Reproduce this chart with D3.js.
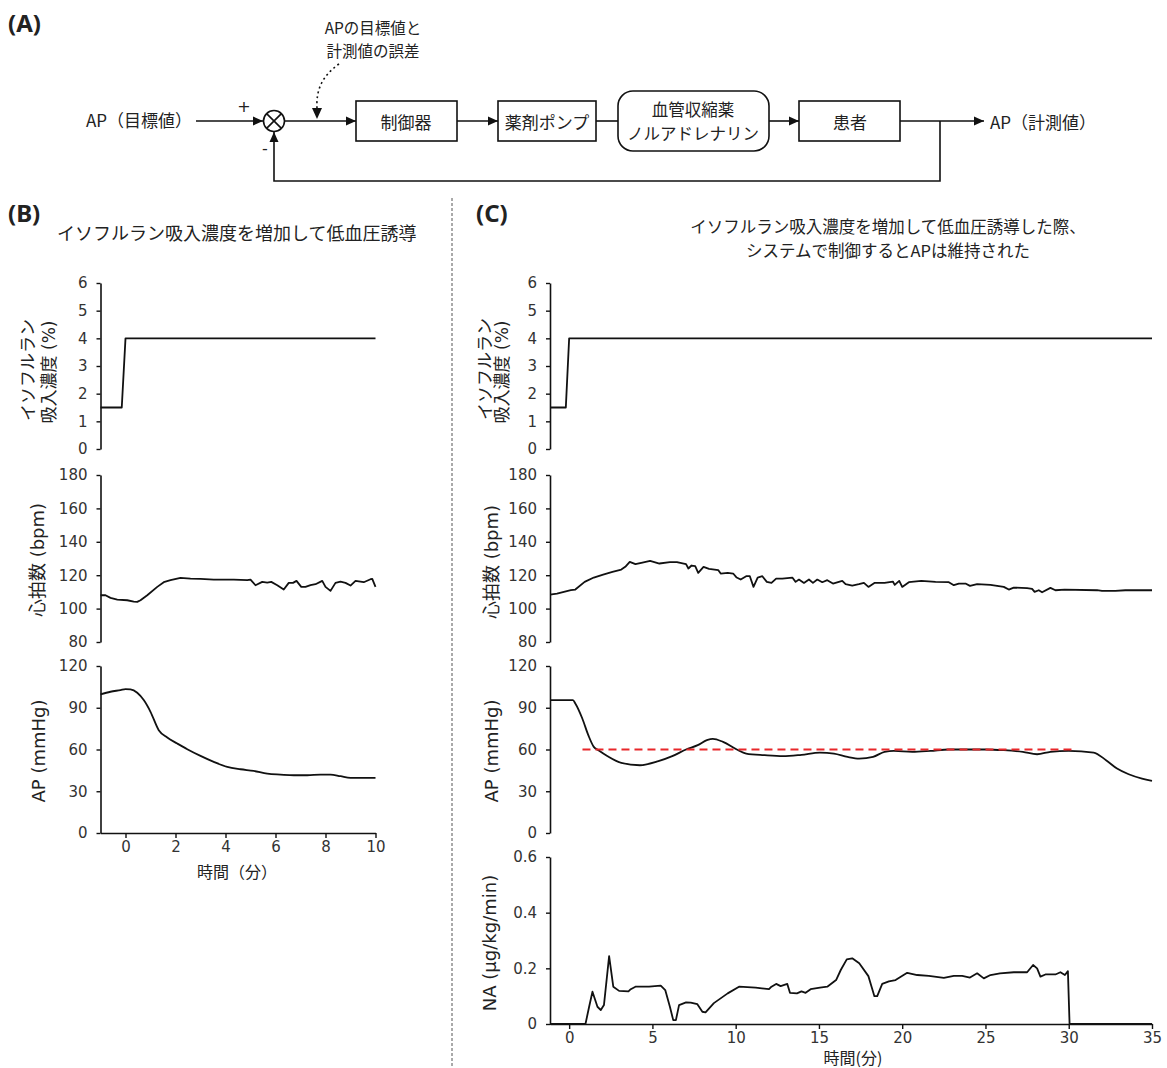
<!DOCTYPE html>
<html><head><meta charset="utf-8">
<script src="https://cdn.jsdelivr.net/npm/d3@7"></script>
<style>
html,body{margin:0;padding:0;background:#fff;}
svg{display:block;}
</style></head>
<body>
<script>
// ---------- DATA ----------
const isoTicks = [0,1,2,3,4,5,6];
const hrTicks = [80,100,120,140,160,180];
const apTicks = [0,30,60,90,120];
const naTicks = [0,0.2,0.4,0.6];
const timeTicksB = [0,2,4,6,8,10];
const timeTicksC = [0,5,10,15,20,25,30,35];

const isoB = [[-1,1.5],[-0.15,1.5],[0,4],[10,4]];
const hrB = [[-1,108],[-0.8,108],[-0.6,106.4],[-0.33,105.4],[0.07,105],[0.33,104.2],[0.47,104],[0.6,105],[0.87,108],[1.27,113],[1.53,115.8],[1.8,117],[2.2,118.4],[2.6,118],[3.0,117.8],[3.53,117.4],[4.33,117.4],[4.87,117],[5.0,117.4],[5.2,114],[5.47,116],[5.67,115.6],[5.83,116],[6.07,114],[6.33,111.4],[6.53,115.4],[6.7,115.4],[6.84,116.6],[7.03,113],[7.2,113],[7.4,114],[7.6,114.6],[7.87,116.6],[8.0,113],[8.2,110.6],[8.4,115.4],[8.6,116.2],[8.8,115.4],[9.0,113.8],[9.2,116.6],[9.53,115.8],[9.8,117.6],[9.87,117.8],[10,113]];
const apB = [[-1,99.6],[-0.6,101.5],[-0.2,102.7],[0,103.4],[0.2,103.2],[0.47,100.8],[0.73,95.5],[1.0,87.1],[1.33,73.9],[1.67,68.6],[2.07,64.3],[2.47,60.2],[3.0,55.4],[3.53,51.1],[4.07,47.5],[4.6,45.8],[5.13,44.6],[5.67,42.7],[6.2,42],[6.73,41.5],[7.27,41.5],[7.8,42],[8.2,42],[8.6,40.8],[9.0,39.6],[10,39.6]];

const isoC = [[-1.15,1.5],[-0.2,1.5],[0,4],[35,4]];
const hrC = [[-1.15,108.4],[-0.73,109],[0.1,111],[0.37,111.4],[0.93,116],[1.48,118.6],[2.04,120.4],[2.6,122],[3.13,123.4],[3.37,125],[3.64,128],[3.98,126.6],[4.4,127.6],[4.86,128.6],[5.42,127],[6.05,127.8],[6.47,127.8],[7.02,126.6],[7.16,124],[7.35,125.8],[7.57,125.4],[7.75,121.4],[8.07,125],[8.4,123.8],[8.96,123],[9.1,121],[9.52,121.4],[9.85,121],[10.06,118.6],[10.3,117.4],[10.63,119.4],[10.85,119.4],[11.07,113],[11.32,118.6],[11.6,119.4],[11.87,116],[12.15,115.4],[12.43,118],[12.8,118],[13.4,118.6],[13.6,116],[13.8,117.4],[14.1,115.4],[14.4,117.4],[14.64,115.4],[14.9,117.4],[15.2,115.8],[15.5,117],[15.84,115],[16.4,116.6],[16.6,114.6],[17,113.8],[17.4,114.6],[17.7,115.4],[17.97,113],[18.33,115.4],[18.94,115.4],[19.44,116.2],[19.55,114.2],[19.82,116.6],[20.0,113],[20.4,115.8],[21.15,116.6],[22,116],[22.8,115.8],[23.1,114],[23.4,115],[23.8,115],[24.07,113.6],[24.5,114.6],[25.3,114.2],[26.1,113],[26.4,111.4],[26.7,112.6],[27.5,112.2],[27.8,111.8],[27.95,110],[28.2,111],[28.4,109.8],[28.9,112.4],[29.2,111],[29.75,111.4],[31.7,111],[32.0,110.6],[32.8,110.6],[33.4,111],[35,111]];
const apC = [[-1.15,95.5],[0.23,95.5],[0.37,93.1],[0.79,82.3],[1.15,70.3],[1.48,61.9],[1.76,59.5],[2.31,55.2],[3.13,50.4],[4.25,48.7],[5.36,51.6],[6.19,55.2],[7.02,60],[7.72,63.1],[8.27,66.7],[8.63,67.7],[9.24,65.5],[10.07,60],[10.63,57.1],[11.74,55.9],[12.84,55.2],[13.95,56.2],[15.06,57.8],[15.9,57.1],[16.72,54.7],[17.42,53.5],[18.25,54.7],[18.94,58.3],[19.5,59],[20.6,58.3],[21.7,59],[22.8,60],[23.93,60],[25.0,60],[26.1,59.5],[27.25,58.3],[28.1,56.6],[28.9,58.3],[30.0,59],[31.5,57.8],[32.24,52.3],[32.9,46.3],[33.6,42.2],[34.4,39.1],[35,37.5]];
const apTarget = [[0.8,60],[30.2,60]];
const naC = [[-1.15,0],[0.98,0],[1.2,0.062],[1.4,0.116],[1.7,0.062],[1.9,0.05],[2.09,0.068],[2.4,0.244],[2.65,0.134],[3.0,0.119],[3.56,0.117],[3.7,0.125],[3.98,0.134],[4.8,0.134],[5.5,0.138],[5.77,0.122],[6.05,0.062],[6.25,0.014],[6.41,0.014],[6.6,0.068],[7.02,0.078],[7.3,0.077],[7.7,0.071],[8.0,0.044],[8.19,0.042],[8.69,0.075],[9.52,0.11],[10.2,0.134],[11.2,0.131],[12.0,0.125],[12.15,0.134],[12.43,0.144],[12.7,0.136],[13.1,0.144],[13.26,0.112],[13.68,0.11],[13.95,0.117],[14.2,0.112],[14.5,0.125],[15.06,0.131],[15.5,0.134],[16.03,0.158],[16.31,0.194],[16.67,0.232],[17.0,0.236],[17.42,0.218],[17.97,0.172],[18.16,0.134],[18.33,0.1],[18.5,0.1],[18.8,0.144],[19.2,0.153],[19.6,0.158],[20.3,0.184],[20.9,0.176],[21.6,0.173],[22.5,0.166],[23.1,0.173],[23.6,0.173],[24.07,0.167],[24.5,0.182],[24.9,0.164],[25.3,0.176],[25.87,0.182],[26.7,0.186],[27.5,0.186],[27.86,0.212],[28.1,0.2],[28.3,0.17],[28.6,0.178],[29.2,0.178],[29.5,0.186],[29.77,0.176],[29.95,0.19],[30.05,0],[35,0]];

// ---------- SVG ----------
const W = 1167, H = 1068;
const svg = d3.select("body").append("svg").attr("width", W).attr("height", H);
const JP = "'Noto Sans CJK JP','Noto Sans',sans-serif";
const LAB = "'DejaVu Sans','Noto Sans CJK JP',sans-serif";
const TICK = "'DejaVu Sans',sans-serif";

// ---------- (A) block diagram ----------
const defs = svg.append("defs");
defs.append("marker").attr("id","arr").attr("viewBox","0 0 10 10").attr("refX",10).attr("refY",5)
  .attr("markerWidth",10).attr("markerHeight",10).attr("markerUnits","userSpaceOnUse").attr("orient","auto")
  .append("path").attr("d","M0,0.5 L10,5 L0,9.5 Z").attr("fill","#111");

const A = svg.append("g");
const ln = (d, arrow) => A.append("path").attr("d", d).attr("fill","none").attr("stroke","#111").attr("stroke-width",1.6)
  .attr("marker-end", arrow ? "url(#arr)" : null);
const txt = (x, y, s, anchor="middle", size=17, g=A) => g.append("text").attr("x",x).attr("y",y).attr("text-anchor",anchor)
  .attr("dominant-baseline","central").attr("font-family",JP).attr("font-size",size).attr("fill","#222").text(s);

A.append("text").attr("x",8).attr("y",22).attr("dominant-baseline","central").attr("font-family","'Noto Sans',sans-serif")
  .attr("font-weight","bold").attr("font-size",24).attr("fill","#222").text("(A)");
txt(373,27,"APの目標値と","middle",15.5);
txt(373,50,"計測値の誤差","middle",15.5);
A.append("path").attr("d","M339,64 C322,76 316,90 317,108").attr("fill","none").attr("stroke","#111")
  .attr("stroke-width",1.6).attr("stroke-dasharray","2,3");
A.append("path").attr("d","M312,108 L322,108 L317,119 Z").attr("fill","#111");

txt(192,119,"AP（目標値）","end");
ln("M196,121 H263", true);
A.append("text").attr("x",244).attr("y",106).attr("text-anchor","middle").attr("dominant-baseline","central")
  .attr("font-family",LAB).attr("font-size",16).attr("fill","#222").text("+");
A.append("text").attr("x",265).attr("y",148).attr("text-anchor","middle").attr("dominant-baseline","central")
  .attr("font-family",LAB).attr("font-size",16).attr("fill","#222").text("-");
A.append("circle").attr("cx",274).attr("cy",121).attr("r",10.5).attr("fill","#fff").attr("stroke","#111").attr("stroke-width",1.6);
ln("M266.6,113.6 L281.4,128.4 M281.4,113.6 L266.6,128.4", false);
ln("M284.5,121 H356", true);
A.append("rect").attr("x",356).attr("y",101).attr("width",101).attr("height",40).attr("fill","none").attr("stroke","#111").attr("stroke-width",1.6);
txt(406,121,"制御器");
ln("M457,121 H498", true);
A.append("rect").attr("x",498).attr("y",101).attr("width",98).attr("height",40).attr("fill","none").attr("stroke","#111").attr("stroke-width",1.6);
txt(547,121,"薬剤ポンプ");
ln("M596,121 H618", false);
A.append("rect").attr("x",618).attr("y",91).attr("width",151).attr("height",60).attr("rx",15).attr("ry",15)
  .attr("fill","none").attr("stroke","#111").attr("stroke-width",1.6);
txt(693,109,"血管収縮薬","middle",16.5);
txt(693,133,"ノルアドレナリン","middle",16.5);
ln("M769,121 H799", true);
A.append("rect").attr("x",799).attr("y",101).attr("width",101).attr("height",40).attr("fill","none").attr("stroke","#111").attr("stroke-width",1.6);
txt(850,121,"患者");
ln("M900,121 H984", true);
txt(990,121,"AP（計測値）","start");
ln("M940,121 V181 H274 V132", true);

// ---------- divider ----------
svg.append("line").attr("x1",452).attr("x2",452).attr("y1",198).attr("y2",1068)
  .attr("stroke","#555").attr("stroke-width",1).attr("stroke-dasharray","3,2");

// ---------- headers ----------
const bold = (x,y,s) => svg.append("text").attr("x",x).attr("y",y).attr("dominant-baseline","central")
  .attr("font-family","'Noto Sans',sans-serif").attr("font-weight","bold").attr("font-size",24).attr("fill","#222").text(s);
bold(8,212,"(B)");
bold(476,212,"(C)");
txt(57,232,"イソフルラン吸入濃度を増加して低血圧誘導","start",18,svg);
txt(888,226,"イソフルラン吸入濃度を増加して低血圧誘導した際、","middle",16.5,svg);
txt(888,250,"システムで制御するとAPは維持された","middle",16.5,svg);

// ---------- scales ----------
const xB = d3.scaleLinear().domain([-1,10]).range([100.5,375.5]);
const xC = d3.scaleLinear().domain([-1.15,35]).range([550,1152]);
const yIso = d3.scaleLinear().domain([0,6]).range([449,283]);
const yHr = d3.scaleLinear().domain([80,180]).range([642,475]);
const yAp = d3.scaleLinear().domain([0,120]).range([833,666]);
const yNa = d3.scaleLinear().domain([0,0.6]).range([1024,857]);

function styleAxis(g){
  g.select(".domain").attr("stroke","#111").attr("stroke-width",1.6);
  g.selectAll(".tick line").attr("stroke","#111").attr("stroke-width",1.4);
  g.selectAll(".tick text").attr("fill","#333").attr("font-family",TICK).attr("font-size",15);
}
function yAxis(x, scale, ticks, fmt){
  const g = svg.append("g").attr("transform",`translate(${x},0)`)
    .call(d3.axisLeft(scale).tickValues(ticks).tickSize(4).tickSizeOuter(0).tickPadding(9).tickFormat(fmt || d3.format("d")));
  styleAxis(g);
}
function xAxis(y, scale, ticks){
  const g = svg.append("g").attr("transform",`translate(0,${y})`)
    .call(d3.axisBottom(scale).tickValues(ticks).tickSize(5).tickSizeOuter(0).tickPadding(3).tickFormat(d3.format("d")));
  styleAxis(g);
}
function line(data, xs, ys, curve, color="#111", dash=null, w=1.8){
  svg.append("path").datum(data)
    .attr("d", d3.line().x(d=>xs(d[0])).y(d=>ys(d[1])).curve(curve || d3.curveLinear))
    .attr("fill","none").attr("stroke",color).attr("stroke-width",w).attr("stroke-dasharray",dash)
    .attr("stroke-linejoin","round");
}
function vlabel(x, y, s, size=18){
  svg.append("text").attr("transform",`translate(${x},${y}) rotate(-90)`).attr("text-anchor","middle")
    .attr("dominant-baseline","central").attr("font-family",LAB).attr("font-size",size).attr("fill","#222").text(s);
}

// ---------- Panel B ----------
yAxis(100.5, yIso, isoTicks);
yAxis(100.5, yHr, hrTicks);
yAxis(100.5, yAp, apTicks);
xAxis(833, xB, timeTicksB);
line(isoB, xB, yIso);
line(hrB, xB, yHr);
line(apB, xB, yAp, d3.curveMonotoneX);
vlabel(28, 370, "イソフルラン", 17);
vlabel(49, 372, "吸入濃度 (%)", 17);
vlabel(37, 560, "心拍数 (bpm)");
vlabel(38, 751, "AP (mmHg)");
txt(237, 871, "時間（分）", "middle", 16, svg);

// ---------- Panel C ----------
yAxis(550, yIso, isoTicks);
yAxis(550, yHr, hrTicks);
yAxis(550, yAp, apTicks);
yAxis(550, yNa, naTicks, d => d === 0 ? "0" : d.toFixed(1));
xAxis(1024, xC, timeTicksC);
line(isoC, xC, yIso);
line(hrC, xC, yHr);
line(apC, xC, yAp, d3.curveMonotoneX);
line(apTarget, xC, yAp, null, "#e8272a", "8,5", 2);
line(naC, xC, yNa);
vlabel(485, 369, "イソフルラン", 17);
vlabel(502, 372, "吸入濃度 (%)", 17);
vlabel(491, 562, "心拍数 (bpm)");
vlabel(491, 751, "AP (mmHg)");
vlabel(489, 943, "NA (μg/kg/min)");
txt(853, 1057, "時間(分)", "middle", 16, svg);
</script>
</body></html>
